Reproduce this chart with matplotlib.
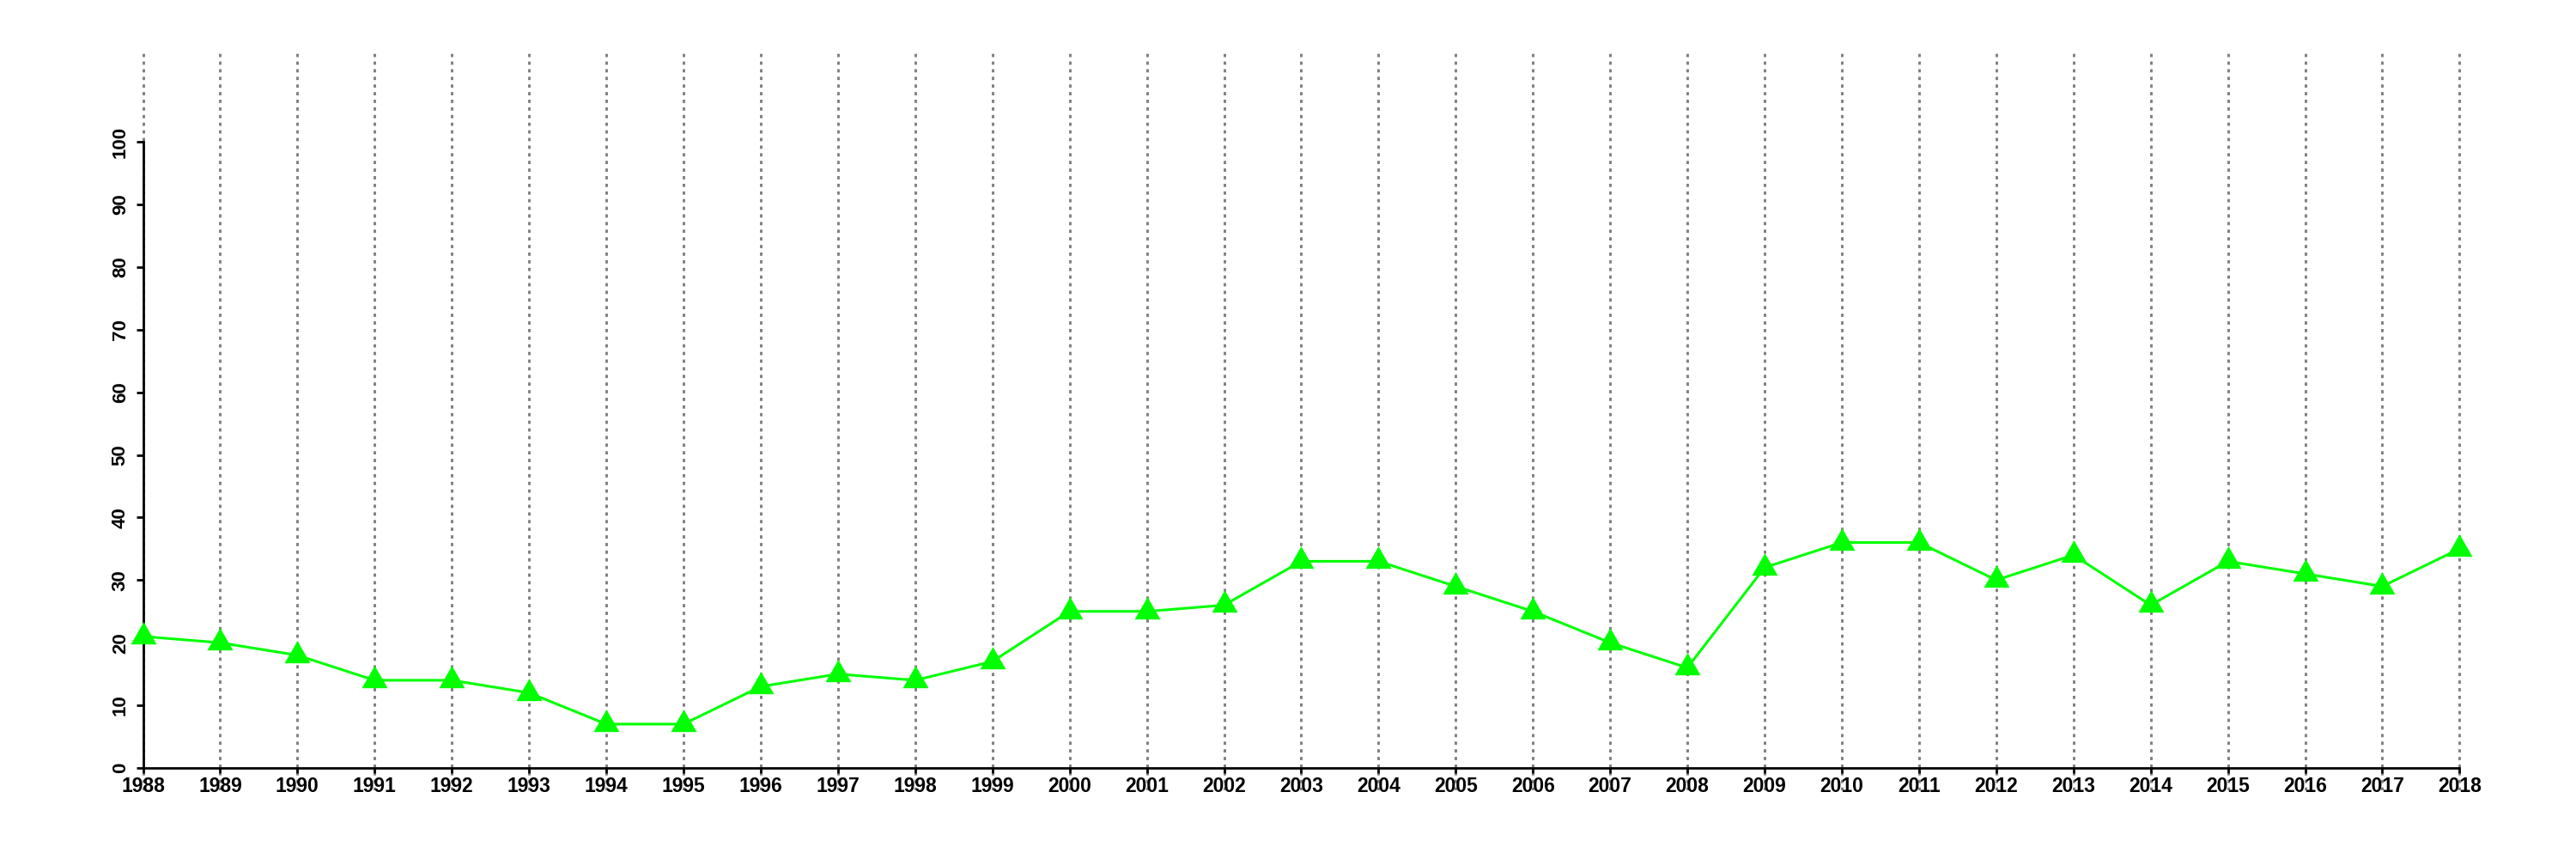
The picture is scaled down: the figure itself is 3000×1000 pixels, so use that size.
import matplotlib
matplotlib.use('Agg')
import matplotlib.pyplot as plt
import numpy as np

# datos
anios = list(range(1988, 2019))
valores = [21, 20, 18, 14, 14, 12, 7, 7, 13, 15, 14, 17, 25, 25, 26, 33,
           33, 29, 25, 20, 16, 32, 36, 36, 30, 34, 26, 33, 31, 29, 35]
ticks_y = [0, 10, 20, 30, 40, 50, 60, 70, 80, 90, 100]

plt.rcParams['font.family'] = ['Liberation Sans', 'DejaVu Sans']
plt.rcParams['font.weight'] = 'bold'

fig = plt.figure(figsize=(30, 10), dpi=100)

# limites del area de dibujo (como en R, algo mas ancho que los datos)
x0, x1 = 1986.8, 2019.2
y0, y1 = -3.5, 114.7
ppx = 89.93  # pixeles por anio
ppy = 7.29   # pixeles por unidad
izq = (166.5 - (1988 - x0) * ppx) / 3000
anc = (x1 - x0) * ppx / 3000
abajo = 1 - (894 + (0 - y0) * ppy) / 1000
alto = (y1 - y0) * ppy / 1000
ax = fig.add_axes([izq, abajo, anc, alto])

# lineas verticales punteadas
for a in anios:
    ax.axvline(a, color='#7f7f7f', linewidth=2.1, dashes=(1.3, 1.75), zorder=1)

# triangulo equilatero centrado (como pch=17 de R)
tri = [(0, 1), (-0.866, -0.5), (0.866, -0.5), (0, 1)]
ax.plot(anios, valores, color='#00ff00', linewidth=2.2, marker=tri,
        markersize=25, markerfacecolor='#00ff00', markeredgewidth=0, zorder=3)

ax.set_xlim(x0, x1)
ax.set_ylim(y0, y1)

ax.spines['top'].set_visible(False)
ax.spines['right'].set_visible(False)
ax.spines['left'].set_bounds(0, 100)
ax.spines['left'].set_position(('data', 1988))
ax.spines['bottom'].set_bounds(1988, 2018)
ax.spines['bottom'].set_position(('data', 0))
ax.spines['left'].set_linewidth(2.0)
ax.spines['bottom'].set_linewidth(2.0)

ax.set_xticks(anios)
ax.set_xticklabels([str(a) for a in anios], fontsize=16.5, fontweight='bold')
ax.set_yticks(ticks_y)
ax.set_yticklabels([str(v) for v in ticks_y], fontsize=16, fontweight='bold',
                   rotation=90, va='center')
ax.tick_params(axis='x', length=4.5, width=2.0, pad=2.5)
ax.tick_params(axis='y', length=5.8, width=2.0, pad=5.5)

fig.savefig('out.png', dpi=100)
